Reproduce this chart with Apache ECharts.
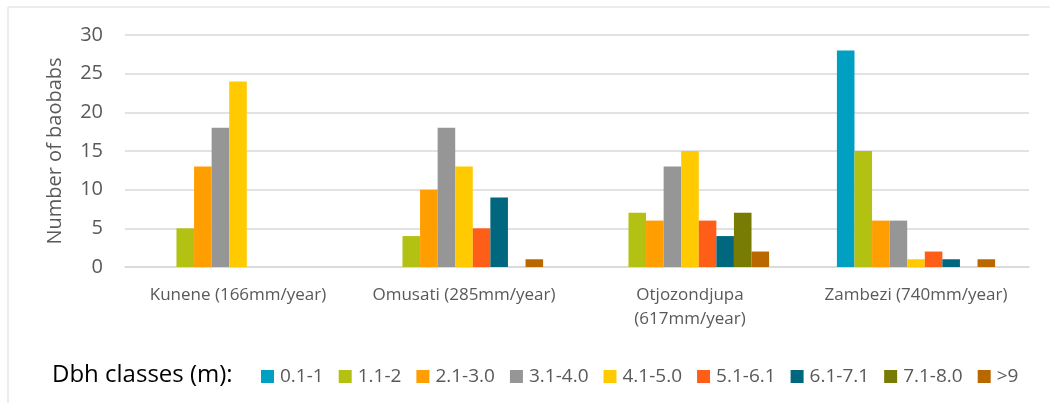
<!DOCTYPE html>
<html>
<head>
<meta charset="utf-8">
<script src="https://cdn.jsdelivr.net/npm/echarts@6/dist/echarts.min.js"></script>
<style>
  html, body { margin: 0; padding: 0; background: #fff; }
  #chart { width: 1050px; height: 403px; }
</style>
</head>
<body>
<div id="chart"></div>
<script>
// regions with mean rainfall
const regions = ['Kunene (166mm/year)', 'Omusati (285mm/year)', 'Otjozondjupa\n(617mm/year)', 'Zambezi (740mm/year)']
const dbhClasses = ['0.1-1', '1.1-2', '2.1-3.0', '3.1-4.0', '4.1-5.0', '5.1-6.1', '6.1-7.1', '7.1-8.0', '>9']
const classColors = ['#00A0C3', '#B3C113', '#FF9E00', '#969696', '#FFCA00', '#FF5E19', '#00677E', '#787C05', '#B96800']

// number of baobabs per class, one value per region
const c01 = [0, 0, 0, 28]
const c11 = [5, 4, 7, 15]
const c21 = [13, 10, 6, 6]
const c31 = [18, 18, 13, 6]
const c41 = [24, 13, 15, 1]
const c51 = [0, 5, 6, 2]
const c61 = [0, 9, 4, 1]
const c71 = [0, 0, 7, 0]
const c9 = [0, 1, 2, 1]
const classValues = [c01, c11, c21, c31, c41, c51, c61, c71, c9]

const yTicks = [0, 5, 10, 15, 20, 25, 30]

const chart = echarts.init(document.getElementById('chart'))
chart.setOption({
  animation: false,
  textStyle: { fontFamily: 'Open Sans' },
  grid: { left: 125, right: 21, top: 35, bottom: 136 },
  graphic: [
    {
      type: 'rect',
      shape: { x: 8, y: 7, width: 1100, height: 500 },
      style: { fill: 'none', stroke: '#d9d9d9', lineWidth: 1 }
    },
    {
      type: 'text',
      x: 52,
      y: 375,
      style: { text: 'Dbh classes (m):', fill: '#000', font: '24px "Open Sans"', verticalAlign: 'middle' }
    }
  ],
  legend: {
    left: 256,
    top: 362,
    itemWidth: 13,
    itemHeight: 13,
    itemGap: 15,
    icon: 'rect',
    textStyle: { color: '#595959', fontSize: 19, padding: [0, 0, 0, 1] },
    data: dbhClasses
  },
  xAxis: {
    type: 'category',
    data: regions,
    axisLine: { lineStyle: { color: '#d9d9d9', width: 1.5 } },
    axisTick: { show: false },
    axisLabel: { color: '#595959', fontSize: 17, margin: 16, lineHeight: 24, interval: 0 }
  },
  yAxis: {
    type: 'value',
    min: yTicks[0],
    max: yTicks[yTicks.length - 1],
    interval: 5,
    name: 'Number of baobabs',
    nameLocation: 'middle',
    nameGap: 60,
    nameTextStyle: { color: '#595959', fontSize: 20 },
    axisLine: { show: false },
    axisTick: { show: false },
    axisLabel: { color: '#595959', fontSize: 20, margin: 22 },
    splitLine: { lineStyle: { color: '#d9d9d9', width: 1.5 } }
  },
  series: dbhClasses.map((name, i) => ({
    name: name,
    type: 'bar',
    data: classValues[i],
    barGap: '0%',
    barCategoryGap: '30%',
    itemStyle: { color: classColors[i] }
  }))
})
</script>
</body>
</html>
